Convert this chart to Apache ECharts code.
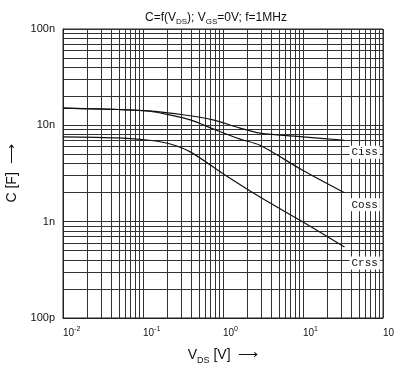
<!DOCTYPE html>
<html><head><meta charset="utf-8">
<script src="https://cdn.jsdelivr.net/npm/echarts@6/dist/echarts.min.js"></script>
<style>html,body{margin:0;padding:0;background:#fff}#c{width:394px;height:374px}</style>
</head><body><div id="c"></div>
<script>
// ---- data (x in V, y in nF) ----
const vdsCiss = [0.01, 0.05, 0.12, 0.33, 0.75, 1.6, 2.9, 10, 33];
const ciss    = [15.1, 14.6, 14.1, 12.8, 11.4, 9.4, 8.3, 7.6, 7.0];
const vdsCoss = [0.01, 0.05, 0.12, 0.2, 0.39, 0.8, 1.63, 2.9, 10, 33];
const coss    = [15.1, 14.6, 14.0, 13.0, 11.4, 9.0, 7.2, 6.2, 3.4, 2.0];
const vdsCrss = [0.01, 0.05, 0.12, 0.22, 0.39, 0.97, 2.9, 10, 33];
const crss    = [7.6, 7.4, 7.0, 6.4, 5.3, 3.2, 1.8, 0.99, 0.545];
const seriesNames = ['Ciss', 'Coss', 'Crss'];
const xTicks = [0.01, 0.1, 1, 10, 100];
const xTickLabels = ['10{sup|-2}', '10{sup|-1}', '10{sup|0}', '10{sup|1}', '10{sup|2}'];
const yTicks = [0.1, 1, 10, 100];
const yTickLabels = ['100p', '1n', '10n', '100n'];
const titleText = 'C=f(V{sub|DS}); V{sub|GS}=0V; f=1MHz';
const xName = 'V{sub|DS} [V]  \u27F6';
const yName = 'C [F]  \u27F6';

const zip = (a, b) => a.map((v, i) => [v, b[i]]);
const gridColor = '#333';
const minorX = [], minorY = [];
for (let e = -2; e < 2; e++) for (let m = 2; m <= 9; m++) minorX.push(m * Math.pow(10, e));
for (let e = -1; e < 2; e++) for (let m = 2; m <= 9; m++) minorY.push(m * Math.pow(10, e));

function tickIndex(ticks, v) {
  const e = Math.round(Math.log10(v));
  return ticks.findIndex(t => Math.round(Math.log10(t)) === e);
}

const FONT = 'Liberation Sans';
const chart = echarts.init(document.getElementById('c'), null, {renderer: 'canvas'});
const curveStyle = {color: '#111', width: 1.2};
function curve(name, xs, ys, dy) {
  return {
    name, type: 'line', data: zip(xs, ys), showSymbol: false, symbol: 'none', smooth: 0.3,
    lineStyle: curveStyle, z: 5, silent: true,
    endLabel: {
      show: true, formatter: name, distance: 5, offset: [0, dy],
      fontFamily: 'Liberation Mono', fontSize: 11, color: '#111',
      backgroundColor: '#fff', padding: [1, 2]
    }
  };
}
chart.setOption({
  animation: false,
  backgroundColor: '#fff',
  title: {
    text: titleText, left: 140, top: 5,
    textStyle: {fontFamily: FONT, fontSize: 12, fontWeight: 'normal', color: '#111', lineHeight: 16,
      rich: {sub: {fontFamily: FONT, fontSize: 8, verticalAlign: 'bottom', lineHeight: 16, color: '#111'}}}
  },
  grid: {left: 63, right: 11, top: 29, bottom: 56, show: true, borderColor: '#222', borderWidth: 1,
    containLabel: false, outerBoundsMode: 'none'},
  xAxis: {
    type: 'log', logBase: 10, min: 0.01, max: 100,
    axisLine: {show: true, lineStyle: {color: '#222'}},
    axisTick: {show: false},
    splitLine: {show: true, lineStyle: {color: gridColor, width: 1}},
    axisLabel: {
      showMinLabel: true, showMaxLabel: true, align: 'left', margin: 8, color: '#111',
      fontFamily: FONT, fontSize: 10, lineHeight: 14,
      formatter: v => xTickLabels[tickIndex(xTicks, v)],
      rich: {sup: {fontFamily: FONT, fontSize: 7, verticalAlign: 'top', lineHeight: 14, color: '#111'}}
    },
    name: xName, nameLocation: 'middle', nameGap: 22,
    nameTextStyle: {fontFamily: FONT, fontSize: 14, color: '#111', lineHeight: 20,
      rich: {sub: {fontFamily: FONT, fontSize: 9, verticalAlign: 'bottom', lineHeight: 20, color: '#111'}}}
  },
  yAxis: {
    type: 'log', logBase: 10, min: 0.1, max: 100,
    axisLine: {show: true, lineStyle: {color: '#222'}},
    axisTick: {show: false},
    splitLine: {show: true, lineStyle: {color: gridColor, width: 1}},
    axisLabel: {
      showMinLabel: true, showMaxLabel: true, margin: 8, color: '#111',
      fontFamily: FONT, fontSize: 11,
      formatter: v => yTickLabels[tickIndex(yTicks, v)]
    },
    name: yName, nameLocation: 'middle', nameRotate: 90, nameGap: 43,
    nameTextStyle: {fontFamily: FONT, fontSize: 14, color: '#111'}
  },
  series: [
    {
      type: 'line', data: [[0.01, 1]], symbol: 'none', showSymbol: false, silent: true, z: 1,
      lineStyle: {opacity: 0},
      markLine: {
        silent: true, symbol: ['none', 'none'], animation: false,
        label: {show: false},
        lineStyle: {type: 'solid', color: gridColor, width: 1},
        data: minorX.map(v => ({xAxis: v})).concat(minorY.map(v => ({yAxis: v})))
      }
    },
    curve(seriesNames[0], vdsCiss, ciss, 12),
    curve(seriesNames[1], vdsCoss, coss, 12),
    curve(seriesNames[2], vdsCrss, crss, 16)
  ]
});
</script>
</body></html>
